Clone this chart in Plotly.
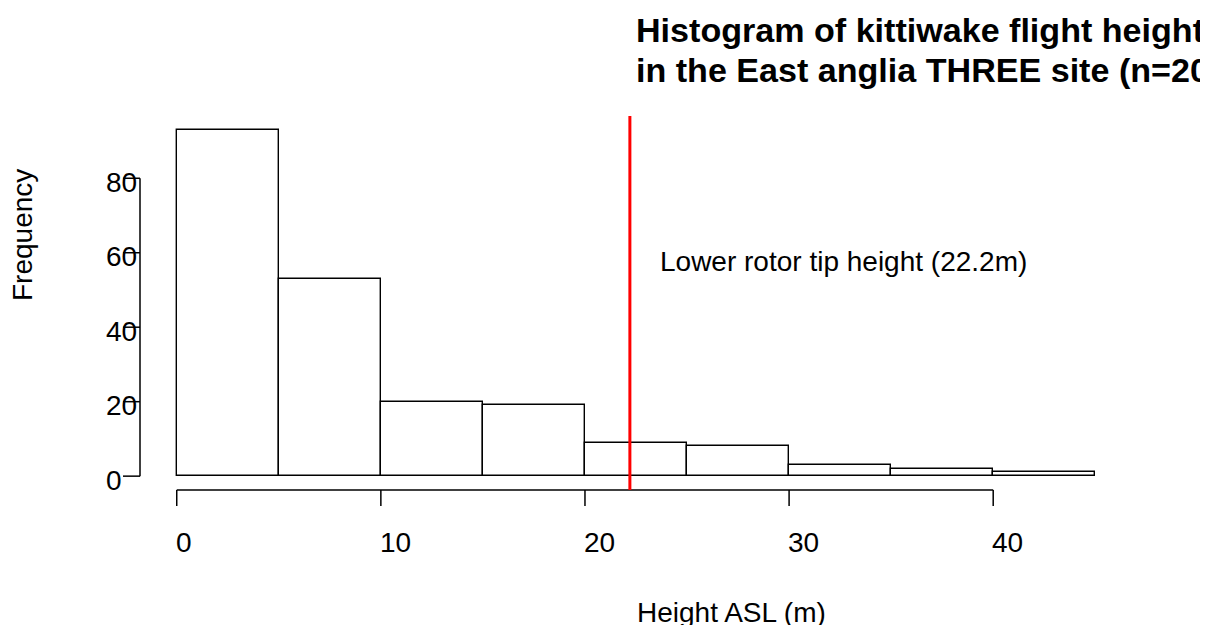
import plotly.graph_objects as go

# ---- data ----
bin_edges = [0, 5, 10, 15, 20, 25, 30, 35, 40, 45]
counts = [93, 53, 20, 19, 9, 8, 3, 2, 1]
x_ticks = [0, 10, 20, 30, 40]
y_ticks = [0, 20, 40, 60, 80]
rotor_height = 22.2
rotor_label = "Lower rotor tip height (22.2m)"
rotor_label_pos = (23.6, 57.6)
title_lines = ["Histogram of kittiwake flight heights",
               f"in the East anglia THREE site (n={sum(counts)})"]
x_title = "Height ASL (m)"
y_title = "Frequency"

FONT = "Liberation Sans, Arial, sans-serif"
FS = 28

centers = [(a + b) / 2 for a, b in zip(bin_edges[:-1], bin_edges[1:])]
widths = [b - a for a, b in zip(bin_edges[:-1], bin_edges[1:])]

fig = go.Figure()
fig.add_trace(go.Bar(
    x=centers, y=counts, width=widths,
    marker=dict(color="white", line=dict(color="black", width=1.4)),
    hoverinfo="x+y", showlegend=False,
))

xr = [bin_edges[0] - 0.04 * (bin_edges[-1] - bin_edges[0]),
      bin_edges[-1] + 0.04 * (bin_edges[-1] - bin_edges[0])]
ymax = max(counts)
yr = [-0.04 * ymax, ymax * 1.04]

shapes = []
LW = 1.5
# y axis line and ticks
shapes.append(dict(type="line", xref="paper", yref="y", x0=0, x1=0,
                   y0=y_ticks[0], y1=y_ticks[-1], line=dict(color="black", width=LW)))
for v in y_ticks:
    shapes.append(dict(type="line", xref="paper", yref="y", xsizemode="pixel",
                       xanchor=0, x0=0, x1=-17, y0=v, y1=v,
                       line=dict(color="black", width=LW)))
# x axis line and ticks
shapes.append(dict(type="line", xref="x", yref="paper", x0=x_ticks[0], x1=x_ticks[-1],
                   y0=0, y1=0, line=dict(color="black", width=LW)))
for v in x_ticks:
    shapes.append(dict(type="line", xref="x", yref="paper", ysizemode="pixel",
                       yanchor=0, y0=0, y1=-16, x0=v, x1=v,
                       line=dict(color="black", width=LW)))
# rotor line
shapes.append(dict(type="line", xref="x", yref="paper", x0=rotor_height, x1=rotor_height,
                   y0=0, y1=1, line=dict(color="red", width=3)))

ann = []
for v in y_ticks:
    ann.append(dict(xref="paper", yref="y", x=0, y=v, xshift=-36, yshift=-4,
                    xanchor="left", yanchor="middle", text=str(v), showarrow=False,
                    font=dict(family=FONT, size=FS, color="black")))
for v in x_ticks:
    ann.append(dict(xref="x", yref="paper", x=v, y=0, xshift=-3, yshift=-52,
                    xanchor="left", yanchor="middle", text=str(v), showarrow=False,
                    font=dict(family=FONT, size=FS, color="black")))
ann.append(dict(xref="paper", yref="paper", x=0.5, y=0, xshift=-1, yshift=-122,
                xanchor="left", yanchor="middle", text=x_title, showarrow=False,
                font=dict(family=FONT, size=FS, color="black")))
ann.append(dict(xref="paper", yref="paper", x=0, y=0.5, xshift=-118, yshift=0,
                xanchor="center", yanchor="bottom", textangle=-90, text=y_title,
                showarrow=False, font=dict(family=FONT, size=FS, color="black")))
ann.append(dict(xref="x", yref="y", x=rotor_label_pos[0], y=rotor_label_pos[1],
                xanchor="left", yanchor="middle", text=rotor_label, showarrow=False,
                font=dict(family=FONT, size=FS, color="black")))
for i, line in enumerate(title_lines):
    ann.append(dict(xref="paper", yref="paper", x=0.5, y=1, xshift=-2,
                    yshift=86 - 40 * i, xanchor="left", yanchor="middle",
                    text=f"<b>{line}</b>", showarrow=False,
                    font=dict(family=FONT, size=34.1, color="black")))

# the page body adds an 8px margin, so the figure is 8px smaller and margins shifted
fig.update_layout(
    width=1200, height=617,
    margin=dict(l=132, r=76, t=108, b=135),
    paper_bgcolor="white", plot_bgcolor="white",
    xaxis=dict(range=xr, visible=False, fixedrange=True),
    yaxis=dict(range=yr, visible=False, fixedrange=True),
    shapes=shapes, annotations=ann, bargap=0,
)
fig.write_html("out.html")
